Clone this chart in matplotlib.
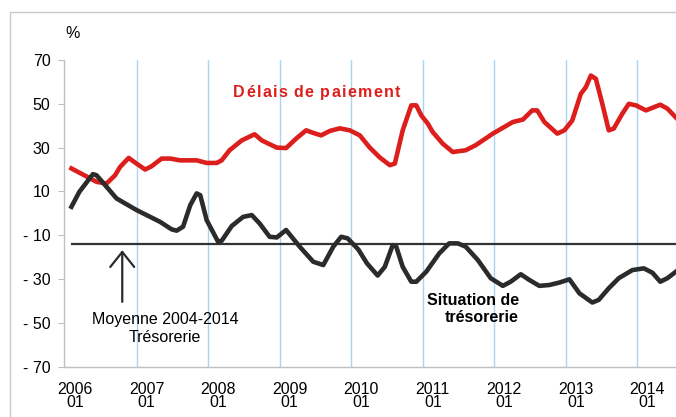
# Payment delays vs. cash position, monthly survey balances (%).
import matplotlib
matplotlib.use("Agg")
import matplotlib.pyplot as plt
from matplotlib import font_manager
from matplotlib.patches import Rectangle

# Data.
years = [2006, 2007, 2008, 2009, 2010, 2011, 2012, 2013, 2014]
yticks = [70, 50, 30, 10, -10, -30, -50, -70]

delais_x = [2006.09, 2006.44, 2006.58, 2006.70, 2006.77, 2006.89, 2007.00, 2007.12,
            2007.21, 2007.35, 2007.47, 2007.61, 2007.84, 2007.98, 2008.12, 2008.19,
            2008.30, 2008.47, 2008.65, 2008.75, 2008.96, 2009.09, 2009.23, 2009.37,
            2009.47, 2009.58, 2009.70, 2009.84, 2009.98, 2010.12, 2010.26, 2010.40,
            2010.54, 2010.61, 2010.72, 2010.84, 2010.91, 2010.98, 2011.07, 2011.14,
            2011.28, 2011.42, 2011.60, 2011.74, 2011.98, 2012.26, 2012.40, 2012.53,
            2012.60, 2012.70, 2012.88, 2012.98, 2013.09, 2013.21, 2013.28, 2013.35,
            2013.42, 2013.51, 2013.60, 2013.67, 2013.79, 2013.88, 2013.98, 2014.12,
            2014.32, 2014.42, 2014.54]
delais_y = [20.5, 14.4, 13.6, 17.4, 21.2, 25.3, 22.7, 20.0,
            21.5, 25.0, 25.0, 24.2, 24.2, 23.0, 23.0, 24.2,
            28.8, 33.3, 36.1, 33.3, 30.0, 29.8, 34.1, 37.9,
            36.7, 35.6, 37.6, 38.8, 37.9, 35.6, 30.0, 25.5,
            22.0, 22.7, 37.9, 49.3, 49.3, 44.7, 41.0, 37.1,
            31.8, 28.0, 28.8, 31.1, 36.4, 41.7, 42.8, 47.0,
            47.0, 41.7, 36.4, 37.9, 42.4, 54.6, 57.6, 62.9,
            61.4, 50.0, 37.9, 38.7, 45.5, 50.0, 49.3, 47.0,
            49.6, 47.8, 43.7]

treso_x = [2006.09, 2006.20, 2006.39, 2006.44, 2006.56, 2006.72, 2007.00, 2007.33,
           2007.49, 2007.56, 2007.65, 2007.75, 2007.84, 2007.89, 2007.98, 2008.14,
           2008.19, 2008.33, 2008.49, 2008.61, 2008.72, 2008.86, 2008.96, 2009.09,
           2009.28, 2009.47, 2009.61, 2009.75, 2009.86, 2009.95, 2010.10, 2010.22,
           2010.37, 2010.47, 2010.58, 2010.63, 2010.72, 2010.84, 2010.91, 2011.05,
           2011.23, 2011.37, 2011.49, 2011.60, 2011.77, 2011.95, 2012.12, 2012.23,
           2012.37, 2012.49, 2012.63, 2012.77, 2012.91, 2013.05, 2013.19, 2013.37,
           2013.46, 2013.60, 2013.74, 2013.93, 2014.09, 2014.21, 2014.32, 2014.42,
           2014.54]
treso_y = [3.0, 9.8, 17.9, 17.4, 12.9, 6.8, 1.5, -3.9,
           -7.3, -7.9, -6.1, 3.7, 9.1, 8.3, -3.1, -13.0,
           -12.5, -5.8, -1.6, -0.8, -4.6, -10.7, -11.0, -7.6,
           -15.2, -22.1, -23.6, -15.2, -10.7, -11.4, -16.5, -22.8,
           -28.4, -24.4, -14.5, -15.2, -24.4, -31.2, -31.2, -26.6,
           -18.3, -13.7, -13.7, -15.2, -21.3, -29.6, -33.1, -31.2,
           -27.8, -30.4, -33.1, -32.7, -31.6, -30.1, -36.5, -40.7,
           -39.5, -34.2, -29.6, -25.9, -25.1, -27.1, -31.2, -29.6,
           -26.6]

moyenne_treso = -14.0


def pick_font(names):
  for name in names:
    try:
      font_manager.findfont(name, fallback_to_default=False)
      return name
    except ValueError:
      pass
  return "DejaVu Sans"


FONT = pick_font(["Liberation Sans Narrow", "Liberation Sans", "Arial"])
NARROW = FONT == "Liberation Sans Narrow"
FS = 13 if NARROW else 11.5
plt.rcParams["font.family"] = [FONT, "DejaVu Sans"]

RED = "#dc1f1c"
DARK = "#2b2b2b"
W, H = 676, 417


def fx(px):
  return px / W


def fy(py):
  return 1 - py / H


fig = plt.figure(figsize=(W / 100, H / 100), dpi=100)

# Light frame around the whole figure.
fig.patches.append(Rectangle((fx(9.5), -0.1), 1.2, fy(12.3) + 0.1,
                             transform=fig.transFigure, fill=False,
                             ec="#c8c8c8", lw=1.0))

ax = fig.add_axes([fx(64.3), fy(366.7), fx(676) - fx(64.3), fy(60) - fy(366.7)])
ax.set_xlim(2005.99, 2014.54)
ax.set_ylim(-70, 70)

for yr in years[1:]:
  ax.axvline(yr, color="#a9d5f3", lw=1.0, zorder=1)

ax.hlines(moyenne_treso, treso_x[0], ax.get_xlim()[1], color="#333333", lw=1.6, zorder=2)
ax.plot(delais_x, delais_y, color=RED, lw=3.3, solid_joinstyle="round", zorder=3)
ax.plot(treso_x, treso_y, color=DARK, lw=3.3, solid_joinstyle="round", zorder=3)

for side in ["top", "right"]:
  ax.spines[side].set_visible(False)
for side in ["left", "bottom"]:
  ax.spines[side].set_color("#c0c0c0")
  ax.spines[side].set_linewidth(1.0)

ax.set_yticks(yticks)
ax.set_yticklabels([f"- {abs(v)}" if v < 0 else str(v) for v in yticks])
ax.tick_params(axis="y", length=4, color="#c0c0c0", pad=6, labelsize=FS)

ax.set_xticks([yr + 0.14 for yr in years])
ax.set_xticklabels([f"{yr}\n01" for yr in years])
ax.tick_params(axis="x", length=0, pad=11, labelsize=FS)
for lbl in ax.get_xticklabels():
  lbl.set_linespacing(0.85)

fig.text(fx(73), fy(33), "%", ha="center", va="center", fontsize=FS)

# Arrow pointing at the long-run average.
arrow_x = 2006.80
ax.annotate("", xy=(arrow_x, -16.8), xytext=(arrow_x, -40.4),
            arrowprops=dict(arrowstyle="->,head_length=1.08,head_width=0.86",
                            lw=1.6, color=DARK, shrinkA=0, shrinkB=0))
fig.text(fx(165), fy(328.3), "Moyenne 2004-2014\nTrésorerie", ha="center",
         va="center", fontsize=FS, linespacing=1.2)

fig.text(fx(519), fy(308.8), "Situation de\ntrésorerie", ha="right", va="center",
         fontsize=FS, fontweight="bold", linespacing=1.15, multialignment="right")

# Letter-spaced series title.
renderer = fig.canvas.get_renderer()
title = "Délais de paiement"
x0, x1, base = 233.3, 400.0, 97.0
space_px = 4.5 if NARROW else 3.5
items, widths = [], []
for ch in title:
  if ch == " ":
    items.append(None)
    widths.append(space_px)
  else:
    t = fig.text(0, fy(base), ch, ha="left", va="baseline", fontsize=FS,
                 fontweight="bold", color=RED)
    items.append(t)
    widths.append(t.get_window_extent(renderer).width)
gap = (x1 - x0 - sum(widths)) / (len(title) - 1)
x = x0
for t, w in zip(items, widths):
  if t is not None:
    t.set_x(fx(x))
  x += w + gap

fig.savefig("out.png", dpi=100)
